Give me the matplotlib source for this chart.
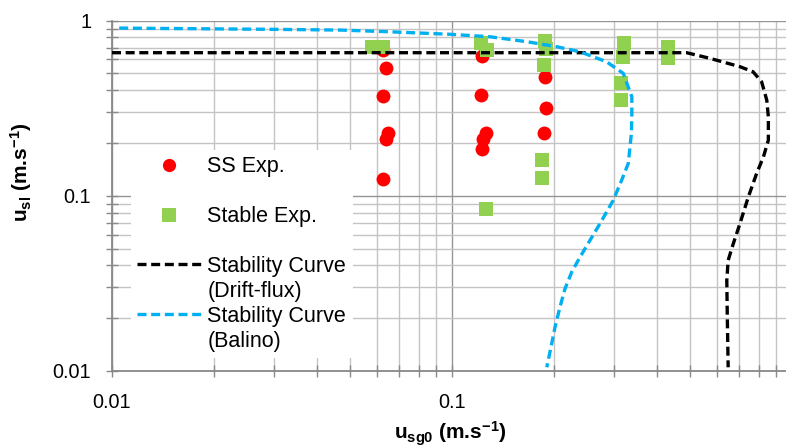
import matplotlib
matplotlib.use('Agg')
import matplotlib.pyplot as plt
from matplotlib.lines import Line2D
from matplotlib.ticker import FixedLocator, FixedFormatter, LogLocator, NullFormatter

# ---------------- data ----------------
ss_x = [0.0626, 0.064, 0.0627, 0.065, 0.064, 0.0627,
        0.1225, 0.1218, 0.1257, 0.1231, 0.1225,
        0.1874, 0.189, 0.1865]
ss_y = [0.678, 0.537, 0.370, 0.2285, 0.212, 0.1243,
        0.627, 0.375, 0.2285, 0.212, 0.1837,
        0.4735, 0.315, 0.2267]

stable_x = [0.058, 0.0627, 0.1219, 0.1265, 0.188, 0.189, 0.1865, 0.1844, 0.1844,
            0.126, 0.321, 0.318, 0.3134, 0.3134, 0.432, 0.432]
stable_y = [0.708, 0.708, 0.741, 0.678, 0.760, 0.685, 0.557, 0.161, 0.127,
            0.0845, 0.747, 0.616, 0.438, 0.351, 0.703, 0.608]

drift_x = [0.01, 0.2725, 0.49, 0.574, 0.703, 0.768, 0.814, 0.843, 0.852, 0.852,
           0.824, 0.787, 0.744, 0.703, 0.672, 0.649, 0.643, 0.645, 0.649]
drift_y = [0.655, 0.655, 0.655, 0.608, 0.545, 0.51, 0.447, 0.351, 0.282, 0.2075,
           0.1666, 0.134, 0.0985, 0.0694, 0.0533, 0.0428, 0.0329, 0.0212, 0.0105]

balino_x = [0.0105, 0.0305, 0.047, 0.0627, 0.098, 0.129, 0.166, 0.203, 0.238, 0.285,
            0.319, 0.338, 0.338, 0.337, 0.330, 0.3155, 0.298, 0.2725, 0.2546, 0.238,
            0.225, 0.215, 0.2078, 0.2009, 0.1964, 0.190]
balino_y = [0.905, 0.89, 0.882, 0.865, 0.835, 0.808, 0.757, 0.709, 0.663, 0.581,
            0.499, 0.367, 0.282, 0.2267, 0.153, 0.1227, 0.0942, 0.0694, 0.0557, 0.0447,
            0.0367, 0.0295, 0.0232, 0.0178, 0.0143, 0.0105]

major_ticks = [0.01, 0.1, 1]
x_labels = ['0.01', '0.1', '']
y_labels = ['0.01', '0.1', '1']

labels = ['SS Exp.', ' ', 'Stable Exp.', ' ',
          'Stability Curve', '(Drift-flux)', 'Stability Curve', '(Balino)']

# ---------------- style ----------------
plt.rcParams['font.family'] = ['Liberation Sans', 'DejaVu Sans']
plt.rcParams['mathtext.fontset'] = 'custom'
plt.rcParams['mathtext.rm'] = 'Liberation Sans'
plt.rcParams['mathtext.it'] = 'Liberation Sans:italic'
plt.rcParams['mathtext.bf'] = 'Liberation Sans:bold'

RED = '#FF0000'
GREEN = '#92D050'
BLACK = '#000000'
BLUE = '#00B0F0'
AXC = '#898989'

W, H = 786, 447
fig = plt.figure(figsize=(W / 100, H / 100), dpi=100)
ax = fig.add_axes([112 / W, 1 - 371 / H, 680 / W, 350.5 / H])
ax.set_xscale('log')
ax.set_yscale('log')
ax.set_xlim(0.01, 1)
ax.set_ylim(0.01, 1)

dash = (0, (2.7, 1.4))
ax.plot(ss_x, ss_y, linestyle='none', marker='o', markersize=10,
        color=RED, markeredgewidth=0, zorder=3)
ax.plot(stable_x, stable_y, linestyle='none', marker='s', markersize=10.5,
        color=GREEN, markeredgewidth=0, zorder=4)
ax.plot(drift_x, drift_y, color=BLACK, lw=2.4, linestyle=dash,
        dash_capstyle='butt', zorder=5)
ax.plot(balino_x, balino_y, color=BLUE, lw=2.4, linestyle=dash,
        dash_capstyle='butt', zorder=6)

# ticks / grid
for axis, lab in ((ax.xaxis, x_labels), (ax.yaxis, y_labels)):
    axis.set_major_locator(FixedLocator(major_ticks))
    axis.set_major_formatter(FixedFormatter(lab))
    axis.set_minor_locator(LogLocator(base=10, subs=range(2, 10), numticks=20))
    axis.set_minor_formatter(NullFormatter())

ax.tick_params(which='both', direction='inout', length=9, width=1.0,
               color=AXC, labelsize=14.3, labelcolor='black')
ax.tick_params(axis='x', which='both', pad=11)
ax.tick_params(axis='y', which='both', pad=10.5)

ax.set_axisbelow(True)
ax.grid(which='major', color='#959595', lw=1.0)
ax.grid(which='minor', color='#c4c4c4', lw=1.0)

for s in ('top', 'right'):
    ax.spines[s].set_visible(False)
for s in ('left', 'bottom'):
    ax.spines[s].set_color(AXC)
    ax.spines[s].set_linewidth(1.3)

ax.set_xlabel(r'u$_{\mathbf{sg0}}$ (m.s$^{\mathbf{-1}}$)', fontsize=15,
              fontweight='bold')
ax.xaxis.set_label_coords(0.497, -0.138)
ax.set_ylabel(r'u$_{\mathbf{sl}}$ (m.s$^{\mathbf{-1}}$)', fontsize=15,
              fontweight='bold')
ax.yaxis.set_label_coords(-0.115, 0.568)

# legend
h_ss = Line2D([], [], linestyle='none', marker='o', markersize=9.5,
              color=RED, markeredgewidth=0)
h_st = Line2D([], [], linestyle='none', marker='s', markersize=9.5,
              color=GREEN, markeredgewidth=0)
h_df = Line2D([], [], color=BLACK, lw=2.4, linestyle=dash, dash_capstyle='butt')
h_ba = Line2D([], [], color=BLUE, lw=2.4, linestyle=dash, dash_capstyle='butt')
blank = Line2D([], [], linestyle='none')
handles = [h_ss, blank, h_st, blank, h_df, blank, h_ba, blank]

leg = ax.legend(handles, labels, loc='upper left',
                bbox_to_anchor=(131 / W, 1 - 150 / H),
                bbox_transform=fig.transFigure,
                fontsize=15.5, handlelength=2.95, handletextpad=0.3,
                labelspacing=0.18, borderpad=0.3, borderaxespad=0,
                frameon=True, fancybox=False, framealpha=1,
                facecolor='white', edgecolor='none')
leg.set_zorder(10)

fig.savefig('out.png', dpi=100, facecolor='white')
